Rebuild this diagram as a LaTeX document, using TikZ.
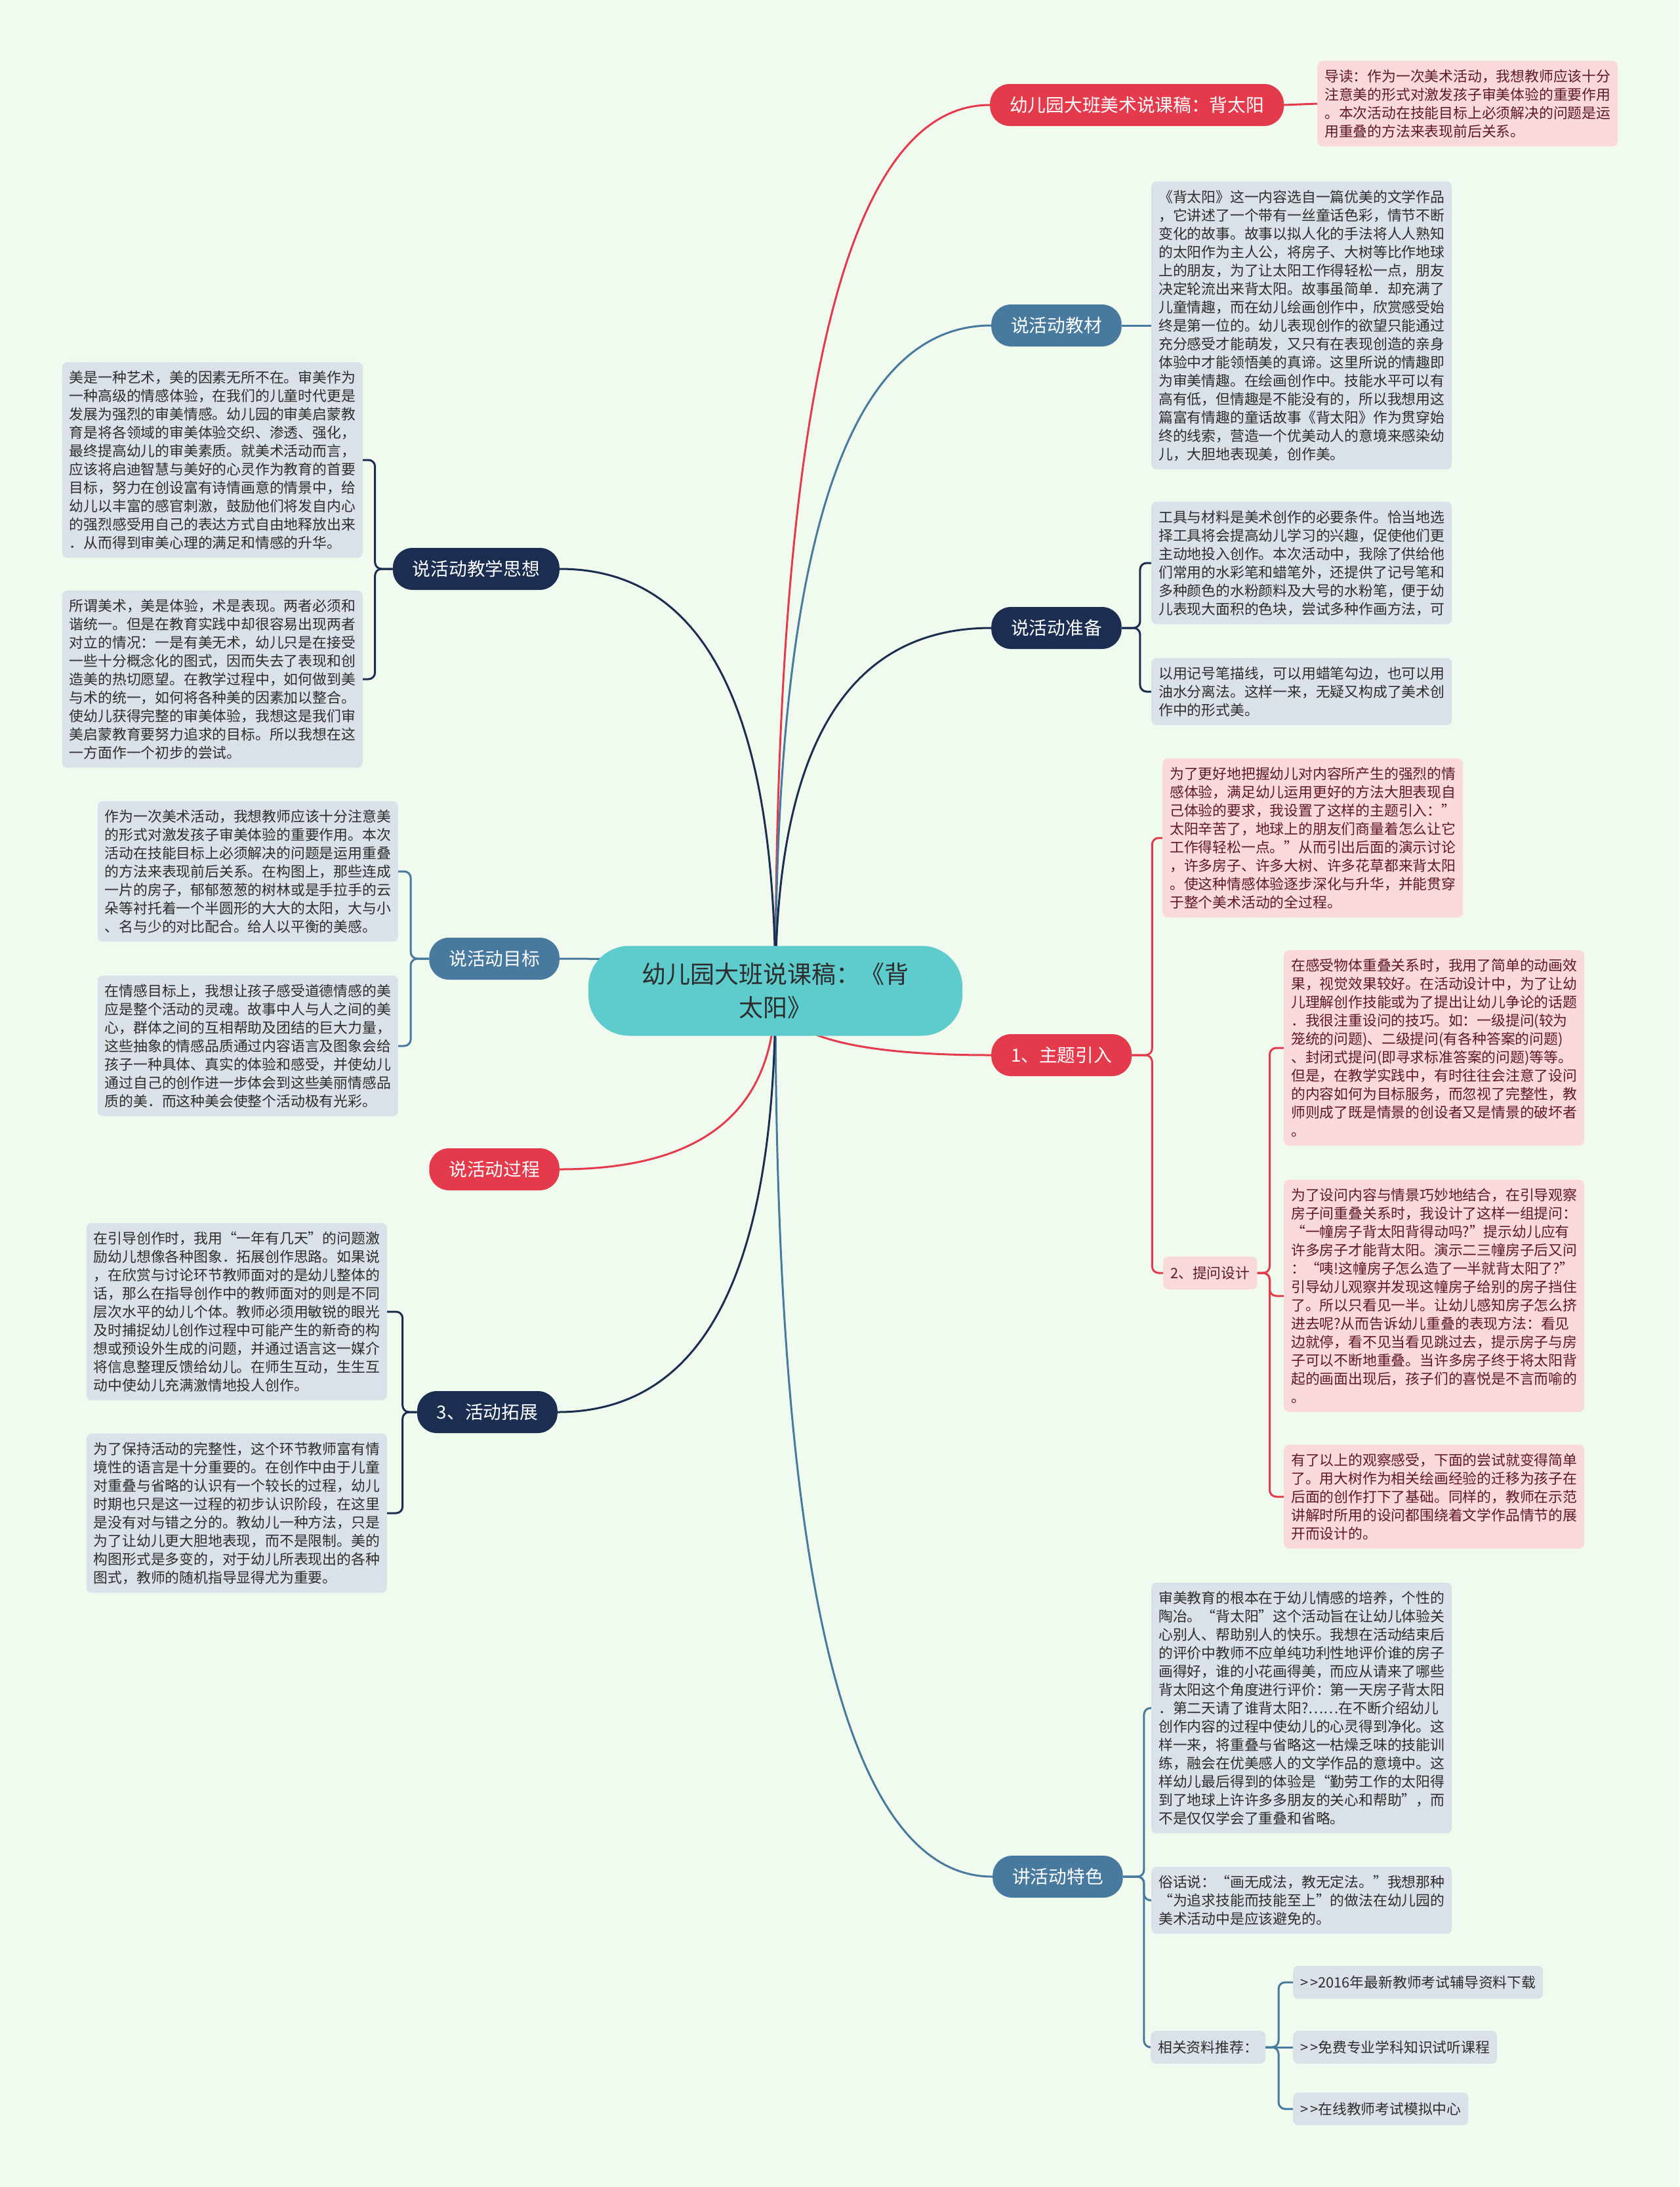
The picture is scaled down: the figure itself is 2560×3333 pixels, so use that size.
\documentclass[tikz,border=0pt]{standalone}
\usepackage{fontspec}
\setmainfont{Noto Sans CJK SC}
\usetikzlibrary{calc, backgrounds}
\definecolor{cBack}{RGB}{241, 250, 238}
\definecolor{cRed}{RGB}{228, 58, 75}
\definecolor{cSteel}{RGB}{71, 122, 158}
\definecolor{cNavy}{RGB}{27, 45, 80}
\definecolor{cTeal}{RGB}{94, 203, 205}
\definecolor{cRootText}{RGB}{45, 45, 45}
\definecolor{cPinkFill}{RGB}{250, 217, 221}
\definecolor{cPinkText}{RGB}{95, 25, 35}
\definecolor{cGreyFill}{RGB}{218, 225, 232}
\definecolor{cGreyText}{RGB}{45, 45, 45}
\newcommand{\noteFont}{\fontsize{21.8}{28}\selectfont}
\newcommand{\topicFont}{\fontsize{27.7}{34}\selectfont}
\newcommand{\rootFont}{\fontsize{37}{51}\selectfont}
\tikzset{
    root/.style={
        rectangle, rounded corners=62pt, fill=cTeal, text=cRootText,
        minimum width=570pt, minimum height=137pt,
        align=center, font=\rootFont
    },
    topic/.style={
        rectangle, rounded corners=30pt, text=white,
        minimum height=64pt, inner xsep=30pt, inner ysep=0pt,
        font=\topicFont
    },
    note/.style={
        rectangle, rounded corners=8pt, align=left,
        text width=436pt, inner xsep=11pt, inner ysep=13pt,
        font=\noteFont
    },
    pinkNote/.style={note, fill=cPinkFill, text=cPinkText},
    greyNote/.style={note, fill=cGreyFill, text=cGreyText},
    tag/.style={
        rectangle, rounded corners=8pt,
        minimum height=50pt, inner xsep=11pt, inner ysep=0pt,
        font=\noteFont
    },
    pinkTag/.style={tag, fill=cPinkFill, text=cPinkText},
    greyTag/.style={tag, fill=cGreyFill, text=cGreyText},
    link/.style={line width=3pt},
    bracket/.style={link, rounded corners=10pt},
    trunk/.style={
        to path={.. controls ($(\tikztostart)!0.67!(\tikztostart |- \tikztotarget)$)
            and ($(\tikztotarget)!0.67!(\tikztostart |- \tikztotarget)$) .. (\tikztotarget) \tikztonodes}
    }
}

\begin{document}
\begin{tikzpicture}[x=1pt, y=-1pt]
\useasboundingbox (0,0) rectangle (2560,3333);

\node[root] (root) at (1182,1510) {幼儿园大班说课稿：《背\\太阳》};

\node[topic, fill=cRed, anchor=west] (topTitle) at (1509,160) {幼儿园大班美术说课稿：背太阳};
\node[topic, fill=cSteel, anchor=west] (matTopic) at (1511,496) {说活动教材};
\node[topic, fill=cNavy, anchor=west] (prepTopic) at (1511,957) {说活动准备};
\node[topic, fill=cRed, anchor=west] (themeTopic) at (1511,1608) {1、主题引入};
\node[topic, fill=cSteel, anchor=west] (featTopic) at (1513,2860) {讲活动特色};
\node[topic, fill=cNavy, anchor=east] (thinkTopic) at (853,867) {说活动教学思想};
\node[topic, fill=cSteel, anchor=east] (goalTopic) at (853,1461) {说活动目标};
\node[topic, fill=cRed, anchor=east] (procTopic) at (853,1782) {说活动过程};
\node[topic, fill=cNavy, anchor=east] (extTopic) at (850,2152) {3、活动拓展};

\node[pinkNote, anchor=west] (introNote) at (2008,158) {导读：作为一次美术活动，我想教师应该十分\\注意美的形式对激发孩子审美体验的重要作用\\。本次活动在技能目标上必须解决的问题是运\\用重叠的方法来表现前后关系。};

\node[greyNote, anchor=west] (matNote) at (1755,496) {《背太阳》这一内容选自一篇优美的文学作品\\，它讲述了一个带有一丝童话色彩，情节不断\\变化的故事。故事以拟人化的手法将人人熟知\\的太阳作为主人公，将房子、大树等比作地球\\上的朋友，为了让太阳工作得轻松一点，朋友\\决定轮流出来背太阳。故事虽简单．却充满了\\儿童情趣，而在幼儿绘画创作中，欣赏感受始\\终是第一位的。幼儿表现创作的欲望只能通过\\充分感受才能萌发，又只有在表现创造的亲身\\体验中才能领悟美的真谛。这里所说的情趣即\\为审美情趣。在绘画创作中。技能水平可以有\\高有低，但情趣是不能没有的，所以我想用这\\篇富有情趣的童话故事《背太阳》作为贯穿始\\终的线索，营造一个优美动人的意境来感染幼\\儿，大胆地表现美，创作美。};

\node[greyNote, anchor=west] (prepNoteA) at (1755,858) {工具与材料是美术创作的必要条件。恰当地选\\择工具将会提高幼儿学习的兴趣，促使他们更\\主动地投入创作。本次活动中，我除了供给他\\们常用的水彩笔和蜡笔外，还提供了记号笔和\\多种颜色的水粉颜料及大号的水粉笔，便于幼\\儿表现大面积的色块，尝试多种作画方法，可};
\node[greyNote, anchor=west] (prepNoteB) at (1755,1054) {以用记号笔描线，可以用蜡笔勾边，也可以用\\油水分离法。这样一来，无疑又构成了美术创\\作中的形式美。};

\node[pinkNote, anchor=west] (themeNote) at (1772,1277) {为了更好地把握幼儿对内容所产生的强烈的情\\感体验，满足幼儿运用更好的方法大胆表现自\\己体验的要求，我设置了这样的主题引入：”\\太阳辛苦了，地球上的朋友们商量着怎么让它\\工作得轻松一点。”从而引出后面的演示讨论\\，许多房子、许多大树、许多花草都来背太阳\\。使这种情感体验逐步深化与升华，并能贯穿\\于整个美术活动的全过程。};
\node[pinkTag, anchor=west] (askTag) at (1773,1940) {2、提问设计};
\node[pinkNote, anchor=west] (askNoteA) at (1957,1597) {在感受物体重叠关系时，我用了简单的动画效\\果，视觉效果较好。在活动设计中，为了让幼\\儿理解创作技能或为了提出让幼儿争论的话题\\．我很注重设问的技巧。如：一级提问(较为\\笼统的问题)、二级提问(有各种答案的问题)\\、封闭式提问(即寻求标准答案的问题)等等。\\但是，在教学实践中，有时往往会注意了设问\\的内容如何为目标服务，而忽视了完整性，教\\师则成了既是情景的创设者又是情景的破坏者\\。};
\node[pinkNote, anchor=west] (askNoteB) at (1957,1975) {为了设问内容与情景巧妙地结合，在引导观察\\房子间重叠关系时，我设计了这样一组提问：\\“一幢房子背太阳背得动吗?”提示幼儿应有\\许多房子才能背太阳。演示二三幢房子后又问\\：“咦!这幢房子怎么造了一半就背太阳了?”\\引导幼儿观察并发现这幢房子给别的房子挡住\\了。所以只看见一半。让幼儿感知房子怎么挤\\进去呢?从而告诉幼儿重叠的表现方法：看见\\边就停，看不见当看见跳过去，提示房子与房\\子可以不断地重叠。当许多房子终于将太阳背\\起的画面出现后，孩子们的喜悦是不言而喻的\\。};
\node[pinkNote, anchor=west] (askNoteC) at (1957,2281) {有了以上的观察感受，下面的尝试就变得简单\\了。用大树作为相关绘画经验的迁移为孩子在\\后面的创作打下了基础。同样的，教师在示范\\讲解时所用的设问都围绕着文学作品情节的展\\开而设计的。};

\node[greyNote, anchor=west] (featNoteA) at (1755,2603) {审美教育的根本在于幼儿情感的培养，个性的\\陶冶。“背太阳”这个活动旨在让幼儿体验关\\心别人、帮助别人的快乐。我想在活动结束后\\的评价中教师不应单纯功利性地评价谁的房子\\画得好，谁的小花画得美，而应从请来了哪些\\背太阳这个角度进行评价：第一天房子背太阳\\．第二天请了谁背太阳?……在不断介绍幼儿\\创作内容的过程中使幼儿的心灵得到净化。这\\样一来，将重叠与省略这一枯燥乏味的技能训\\练，融会在优美感人的文学作品的意境中。这\\样幼儿最后得到的体验是“勤劳工作的太阳得\\到了地球上许许多多朋友的关心和帮助”，而\\不是仅仅学会了重叠和省略。};
\node[greyNote, anchor=west] (featNoteB) at (1755,2896) {俗话说：“画无成法，教无定法。”我想那种\\“为追求技能而技能至上”的做法在幼儿园的\\美术活动中是应该避免的。};
\node[greyTag, anchor=west] (linksTag) at (1754,3120) {相关资料推荐：};
\node[greyTag, anchor=west] (linkA) at (1971,3021) {>\kern3pt>2016年最新教师考试辅导资料下载};
\node[greyTag, anchor=west] (linkB) at (1971,3120) {>\kern3pt>免费专业学科知识试听课程};
\node[greyTag, anchor=west] (linkC) at (1971,3214) {>\kern3pt>在线教师考试模拟中心};

\node[greyNote, anchor=east] (thinkNoteA) at (553,701) {美是一种艺术，美的因素无所不在。审美作为\\一种高级的情感体验，在我们的儿童时代更是\\发展为强烈的审美情感。幼儿园的审美启蒙教\\育是将各领域的审美体验交织、渗透、强化，\\最终提高幼儿的审美素质。就美术活动而言，\\应该将启迪智慧与美好的心灵作为教育的首要\\目标，努力在创设富有诗情画意的情景中，给\\幼儿以丰富的感官刺激，鼓励他们将发自内心\\的强烈感受用自己的表达方式自由地释放出来\\．从而得到审美心理的满足和情感的升华。};
\node[greyNote, anchor=east] (thinkNoteB) at (553,1035) {所谓美术，美是体验，术是表现。两者必须和\\谐统一。但是在教育实践中却很容易出现两者\\对立的情况：一是有美无术，幼儿只是在接受\\一些十分概念化的图式，因而失去了表现和创\\造美的热切愿望。在教学过程中，如何做到美\\与术的统一，如何将各种美的因素加以整合。\\使幼儿获得完整的审美体验，我想这是我们审\\美启蒙教育要努力追求的目标。所以我想在这\\一方面作一个初步的尝试。};

\node[greyNote, anchor=east] (goalNoteA) at (607,1328) {作为一次美术活动，我想教师应该十分注意美\\的形式对激发孩子审美体验的重要作用。本次\\活动在技能目标上必须解决的问题是运用重叠\\的方法来表现前后关系。在构图上，那些连成\\一片的房子，郁郁葱葱的树林或是手拉手的云\\朵等衬托着一个半圆形的大大的太阳，大与小\\、名与少的对比配合。给人以平衡的美感。};
\node[greyNote, anchor=east] (goalNoteB) at (607,1594) {在情感目标上，我想让孩子感受道德情感的美\\应是整个活动的灵魂。故事中人与人之间的美\\心，群体之间的互相帮助及团结的巨大力量，\\这些抽象的情感品质通过内容语言及图象会给\\孩子一种具体、真实的体验和感受，并使幼儿\\通过自己的创作进一步体会到这些美丽情感品\\质的美．而这种美会使整个活动极有光彩。};

\node[greyNote, anchor=east] (extNoteA) at (590,1999) {在引导创作时，我用“一年有几天”的问题激\\励幼儿想像各种图象．拓展创作思路。如果说\\，在欣赏与讨论环节教师面对的是幼儿整体的\\话，那么在指导创作中的教师面对的则是不同\\层次水平的幼儿个体。教师必须用敏锐的眼光\\及时捕捉幼儿创作过程中可能产生的新奇的构\\想或预设外生成的问题，并通过语言这一媒介\\将信息整理反馈给幼儿。在师生互动，生生互\\动中使幼儿充满激情地投人创作。};
\node[greyNote, anchor=east] (extNoteB) at (590,2306) {为了保持活动的完整性，这个环节教师富有情\\境性的语言是十分重要的。在创作中由于儿童\\对重叠与省略的认识有一个较长的过程，幼儿\\时期也只是这一过程的初步认识阶段，在这里\\是没有对与错之分的。教幼儿一种方法，只是\\为了让幼儿更大胆地表现，而不是限制。美的\\构图形式是多变的，对于幼儿所表现出的各种\\图式，教师的随机指导显得尤为重要。};

\begin{scope}[on background layer]
\fill[cBack] (0,0) rectangle (2560,3333);

\draw[link, cRed] (root.center) to[trunk] (topTitle.west);
\draw[link, cSteel] (root.center) to[trunk] (matTopic.west);
\draw[link, cNavy] (root.center) to[trunk] (prepTopic.west);
\draw[link, cRed] (root.center) to[trunk] (themeTopic.west);
\draw[link, cSteel] (root.center) to[trunk] (featTopic.west);
\draw[link, cNavy] (root.center) to[trunk] (thinkTopic.east);
\draw[link, cSteel] (root.center) to[trunk] (goalTopic.east);
\draw[link, cRed] (root.center) to[trunk] (procTopic.east);
\draw[link, cNavy] (root.center) to[trunk] (extTopic.east);

\draw[link, cRed] (topTitle.east) -- (introNote.west);
\draw[link, cSteel] (matTopic.east) -- (matNote.west);
\draw[bracket, cNavy] (prepTopic.east) -- ++(28,0) |- (prepNoteA.west);
\draw[bracket, cNavy] (prepTopic.east) -- ++(28,0) |- (prepNoteB.west);

\draw[bracket, cRed] (themeTopic.east) -- ++(31,0) |- (themeNote.west);
\draw[bracket, cRed] (themeTopic.east) -- ++(31,0) |- (askTag.west);
\draw[bracket, cRed] (askTag.east) -- ++(19,0) |- (askNoteA.west);
\draw[bracket, cRed] (askTag.east) -- ++(19,0) |- (askNoteB.west);
\draw[bracket, cRed] (askTag.east) -- ++(19,0) |- (askNoteC.west);

\draw[bracket, cSteel] (featTopic.east) -- ++(32,0) |- (featNoteA.west);
\draw[bracket, cSteel] (featTopic.east) -- ++(32,0) |- (featNoteB.west);
\draw[bracket, cSteel] (featTopic.east) -- ++(32,0) |- (linksTag.west);
\draw[bracket, cSteel] (linksTag.east) -- ++(20,0) |- (linkA.west);
\draw[link, cSteel] (linksTag.east) -- (linkB.west);
\draw[bracket, cSteel] (linksTag.east) -- ++(20,0) |- (linkC.west);

\draw[bracket, cNavy] (thinkTopic.west) -- ++(-27,0) |- (thinkNoteA.east);
\draw[bracket, cNavy] (thinkTopic.west) -- ++(-27,0) |- (thinkNoteB.east);
\draw[bracket, cSteel] (goalTopic.west) -- ++(-28,0) |- (goalNoteA.east);
\draw[bracket, cSteel] (goalTopic.west) -- ++(-28,0) |- (goalNoteB.east);
\draw[bracket, cNavy] (extTopic.west) -- ++(-22,0) |- (extNoteA.east);
\draw[bracket, cNavy] (extTopic.west) -- ++(-22,0) |- (extNoteB.east);
\end{scope}
\end{tikzpicture}
\end{document}
